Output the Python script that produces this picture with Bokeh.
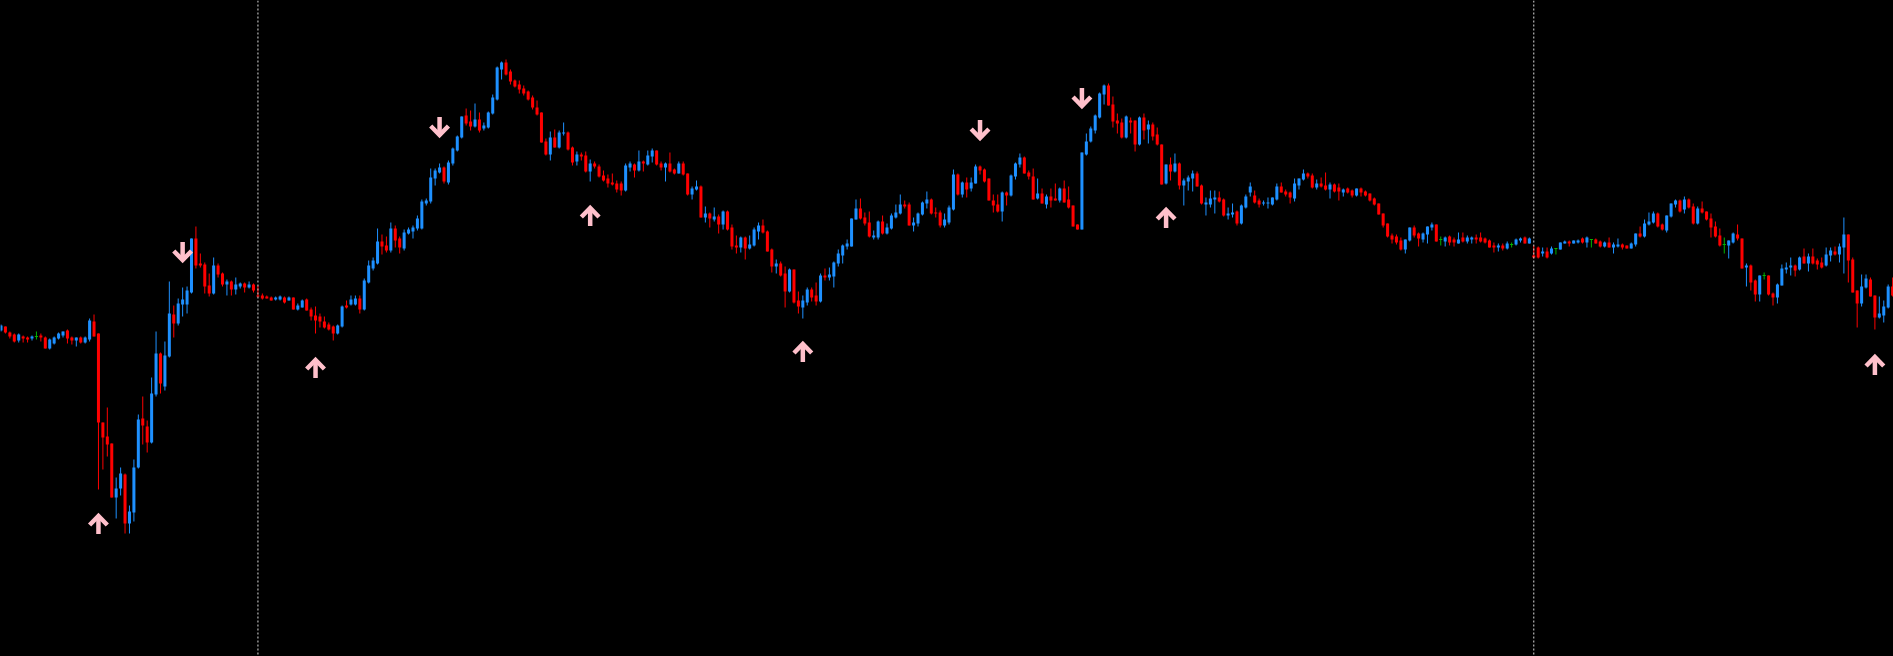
from bokeh.plotting import figure
from bokeh.models import ColumnDataSource, Range1d, Span, GlobalInlineStyleSheet
from bokeh.embed import file_html
from bokeh.resources import INLINE

# ---- M5 price bars (points) ----
open_ = [
    370,374,368,366,360,364,363,362,364,365,
    363,352,357,362,365,370,363,360,363,358,
    361,379,367,278,264,257,203,212,226,177,
    188,233,282,274,258,306,347,314,344,386,
    377,396,396,408,462,437,436,415,407,435,
    427,416,419,411,414,417,413,416,405,405,
    404,403,401,401,403,400,403,391,393,401,
    391,385,384,379,376,374,367,374,395,396,
    396,402,391,418,432,437,459,455,450,472,
    462,452,467,469,472,472,497,499,522,528,
    533,518,537,550,563,585,579,574,581,572,
    573,587,601,631,638,629,620,616,612,609,
    603,593,588,559,546,563,553,567,568,553,
    539,546,545,529,537,534,525,522,518,517,
    517,510,533,536,530,539,536,544,550,537,
    533,537,531,527,537,527,506,511,514,483,
    487,481,484,476,489,473,455,453,463,452,
    455,469,475,469,451,434,437,427,409,431,
    400,393,398,411,405,399,425,423,424,437,
    445,454,454,481,492,483,478,463,463,479,
    467,472,483,487,496,496,475,477,486,497,
    501,488,488,475,478,491,526,506,518,512,
    517,534,531,522,500,496,489,508,505,524,
    536,543,528,524,502,507,496,504,502,500,
    512,501,495,476,471,546,559,570,583,606,
    615,596,580,578,563,580,580,556,583,571,
    576,566,556,517,536,529,537,515,519,522,
    527,515,496,496,501,503,501,485,486,489,
    477,493,508,505,500,497,497,496,501,514,
    509,508,502,515,521,527,525,513,517,515,
    511,516,513,508,512,510,505,512,509,507,
    502,497,487,477,465,464,460,451,460,473,
    467,461,466,473,476,461,459,464,461,457,
    463,459,461,463,463,462,460,455,453,455,
    452,456,456,460,463,457,445,453,447,449,
    447,452,451,457,459,457,458,462,458,461,
    461,459,454,458,453,454,456,455,452,456,
    467,464,476,478,487,476,470,484,496,500,
    491,501,494,477,492,489,482,474,465,456,
    455,458,466,462,433,435,420,406,425,425,
    407,403,415,431,433,435,431,444,437,444,
    440,438,435,445,449,446,453,466,441,410,
    397,413,421,405,383,385,393,414,
]
high = [
    376,374,369,367,367,365,364,365,369,367,
    364,362,364,368,369,371,364,363,364,364,
    382,386,367,278,293,257,223,233,227,195,
    241,286,304,280,323,369,348,359,419,395,
    402,413,414,462,474,447,438,427,443,437,
    428,421,420,423,418,418,419,417,415,407,
    405,404,404,405,404,404,403,397,401,402,
    393,394,387,384,378,375,376,395,400,405,
    405,405,422,440,443,472,466,464,478,475,
    464,471,473,475,485,501,502,532,532,537,
    534,540,553,565,584,592,590,597,588,578,
    589,606,634,639,641,631,621,620,615,610,
    605,600,588,562,569,571,570,578,569,554,
    549,548,549,541,539,536,530,526,527,520,
    519,537,539,537,550,540,550,552,550,539,
    538,548,532,539,539,527,514,520,515,494,
    488,493,486,490,490,476,465,464,464,465,
    473,478,481,470,452,441,439,434,432,431,
    409,405,413,413,418,427,432,433,439,451,
    456,461,482,501,502,488,489,470,480,485,
    477,487,496,506,500,498,483,488,499,509,
    502,493,490,487,495,531,527,519,523,523,
    536,535,532,522,506,506,509,509,526,538,
    547,544,530,532,522,512,506,512,517,513,
    520,514,495,476,548,567,574,586,608,616,
    617,604,587,582,585,583,580,584,587,580,
    578,573,556,536,543,547,538,522,525,530,
    529,516,503,510,510,509,502,493,497,490,
    496,506,518,510,502,500,503,503,517,518,
    511,509,522,522,531,528,527,521,523,528,
    518,517,517,512,513,511,512,513,510,507,
    503,497,487,477,467,466,463,461,473,475,
    468,468,474,478,476,464,464,465,463,468,
    468,465,464,466,468,463,461,458,457,457,
    459,458,462,463,464,463,455,454,453,453,
    454,452,458,460,460,460,461,463,464,461,
    462,460,459,463,458,462,457,455,458,467,
    474,481,488,489,488,477,485,497,501,501,
    504,502,497,494,499,489,487,479,472,463,
    460,468,476,462,437,436,421,425,428,425,
    408,417,436,438,443,436,444,452,447,452,
    442,443,453,453,454,457,483,466,443,410,
    426,426,423,405,404,400,416,423,
]
low = [
    369,367,362,358,358,358,358,360,361,359,
    352,351,356,361,363,357,356,354,357,357,
    359,364,211,231,244,203,182,205,167,167,
    179,232,256,248,257,304,307,310,343,363,
    375,384,387,407,432,433,407,404,406,423,
    414,405,405,406,412,408,412,408,403,401,
    402,400,400,400,397,400,391,390,393,390,
    380,367,373,372,370,360,366,373,392,395,
    395,387,390,417,430,436,446,448,448,453,
    447,450,466,462,470,471,495,497,515,527,
    517,516,535,549,562,575,570,573,568,570,
    572,586,600,621,625,616,613,607,605,600,
    591,585,558,545,540,553,552,565,550,535,
    535,540,528,519,532,523,519,513,515,508,
    505,509,529,523,529,529,535,538,535,530,
    519,528,526,527,525,505,501,510,483,478,
    473,479,467,471,470,451,447,448,441,451,
    454,461,467,449,428,427,424,393,408,397,
    387,382,395,399,395,398,420,420,413,434,
    437,451,454,481,481,475,463,461,461,466,
    466,471,482,486,492,475,469,474,485,492,
    486,483,473,473,476,490,505,503,503,509,
    517,526,518,500,488,488,479,495,504,521,
    533,527,521,501,501,497,492,493,500,498,
    498,492,474,471,471,545,558,567,582,596,
    595,573,567,562,562,567,549,555,561,557,
    560,555,516,516,520,528,511,495,510,509,
    514,496,485,493,487,498,484,481,483,475,
    476,492,504,497,493,495,492,495,500,508,
    504,497,499,511,520,522,512,511,513,510,
    502,508,500,504,507,503,504,504,504,499,
    495,486,473,463,457,456,450,447,459,463,
    454,458,457,470,459,455,454,455,454,457,
    458,457,457,457,458,457,453,448,449,450,
    451,453,455,458,457,457,442,442,444,442,
    446,446,451,457,454,457,457,457,453,453,
    457,453,453,453,447,453,451,452,452,454,
    463,463,475,477,473,470,468,483,493,488,
    487,492,476,476,487,480,463,463,454,447,
    442,457,460,432,414,410,399,399,421,405,
    395,397,415,427,425,424,430,437,429,436,
    431,432,434,439,445,438,427,418,408,373,
    394,412,404,371,382,378,392,404,
]
close = [
    375,368,364,359,366,362,361,364,364,363,
    352,361,363,367,369,362,360,363,358,363,
    380,364,278,263,256,203,212,227,177,189,
    233,281,275,258,307,347,317,345,387,377,
    397,401,410,462,435,435,414,407,435,426,
    416,419,411,416,417,413,416,410,404,402,
    402,400,403,404,398,403,391,395,400,390,
    384,380,379,373,371,367,375,394,393,401,
    402,391,420,435,440,459,454,450,472,460,
    453,468,471,473,482,499,500,523,530,533,
    519,538,552,564,584,577,574,581,570,575,
    588,603,633,638,626,619,614,611,607,601,
    593,586,558,546,563,553,568,568,551,538,
    546,544,529,537,534,524,520,517,516,511,
    510,535,537,530,539,537,545,550,536,533,
    537,529,527,537,526,506,512,514,483,487,
    482,484,476,489,471,454,453,463,452,456,
    471,475,468,449,434,437,425,409,431,398,
    394,400,411,403,399,425,423,426,438,447,
    455,457,482,492,482,477,464,465,479,467,
    473,485,488,496,494,475,478,487,498,501,
    487,487,475,481,493,526,506,518,511,518,
    534,530,519,500,495,489,508,505,525,537,
    543,527,524,501,507,497,504,500,500,512,
    498,493,474,471,548,559,572,585,607,615,
    595,579,577,563,584,578,556,583,570,576,
    564,556,516,536,529,537,515,520,523,527,
    514,497,498,502,503,499,485,487,488,477,
    495,504,514,498,496,498,498,503,514,508,
    506,503,517,522,527,524,513,517,514,511,
    516,509,509,511,508,505,512,508,505,500,
    496,486,475,464,461,458,451,461,473,465,
    462,467,474,476,459,461,463,458,458,461,
    459,463,463,461,459,458,453,453,455,452,
    457,456,461,462,457,462,443,443,449,443,
    452,452,458,459,457,460,460,458,463,461,
    457,454,458,453,456,456,453,452,457,467,
    464,477,479,487,474,471,485,497,500,489,
    501,493,477,492,488,481,473,464,455,456,
    460,467,462,432,435,418,406,425,425,406,
    403,416,432,433,435,430,443,437,444,437,
    436,433,446,450,446,454,466,440,408,397,
    414,422,404,383,387,394,414,405,
]

# signal arrows (bar index, price level)
up_arrow_bars = [22, 71, 133, 181, 263, 423]
up_arrow_prices = [177, 333, 485, 349, 483, 336]
down_arrow_bars = [41, 99, 221, 244]
down_arrow_prices = [448, 573, 570, 602]

# day separators (bar index of first bar of new day)
day_separator_bars = [58, 346]

n = len(open_)
assert len(high) == n and len(low) == n and len(close) == n, (len(open_), len(high), len(low), len(close))

UP = "#1E90FF"
DOWN = "#FF0000"
DOJI = "#00B400"
ARROW = "#FFC0CB"

idx = list(range(n))
colors = []
for o, c in zip(open_, close):
    if c > o:
        colors.append(UP)
    elif c < o:
        colors.append(DOWN)
    else:
        colors.append(DOJI)

src = ColumnDataSource(dict(
    x=idx, o=open_, h=high, l=low, c=close,
    top=[max(o, c) for o, c in zip(open_, close)],
    bottom=[min(o, c) for o, c in zip(open_, close)],
    color=colors,
))

p = figure(width=1893, height=656, output_backend="svg", toolbar_location=None,
           x_axis_type=None, y_axis_type=None, min_border=0,
           x_range=Range1d(-0.113, 427.2), y_range=Range1d(44, 700))
p.background_fill_color = "#000000"
p.border_fill_color = "#000000"
p.outline_line_color = None
p.stylesheets = [GlobalInlineStyleSheet(css="html, body { background-color: #000000; }")]

# day separators
for b in day_separator_bars:
    p.add_layout(Span(location=b, dimension="height", line_color="#DCDCDC",
                      line_width=1, line_dash="2 2"))

# wicks
p.segment(x0="x", y0="l", x1="x", y1="h", line_color="color", line_width=1, source=src)
# bodies
p.vbar(x="x", width=0.68, top="top", bottom="bottom", fill_color="color",
       line_color=None, source=src)
# doji bodies (horizontal tick)
dj = [i for i in idx if open_[i] == close[i]]
p.segment(x0=[i - 0.36 for i in dj], x1=[i + 0.36 for i in dj],
          y0=[open_[i] for i in dj], y1=[open_[i] for i in dj],
          line_color=DOJI, line_width=1)

# arrows
hx = 2.0   # half width of head in bar units
xs, ys = [], []
for b, pr in zip(up_arrow_bars, up_arrow_prices):
    xs.append([b, b]); ys.append([pr - 10.5, pr + 7])
    xs.append([b - hx, b, b + hx]); ys.append([pr - 1.5, pr + 7.5, pr - 1.5])
for b, pr in zip(down_arrow_bars, down_arrow_prices):
    xs.append([b, b]); ys.append([pr + 10.5, pr - 7])
    xs.append([b - hx, b, b + hx]); ys.append([pr + 1.5, pr - 7.5, pr + 1.5])
p.multi_line(xs=xs, ys=ys, line_color=ARROW, line_width=4.5, line_join="miter", line_cap="butt")

open("out.html", "w").write(file_html(p, INLINE))
